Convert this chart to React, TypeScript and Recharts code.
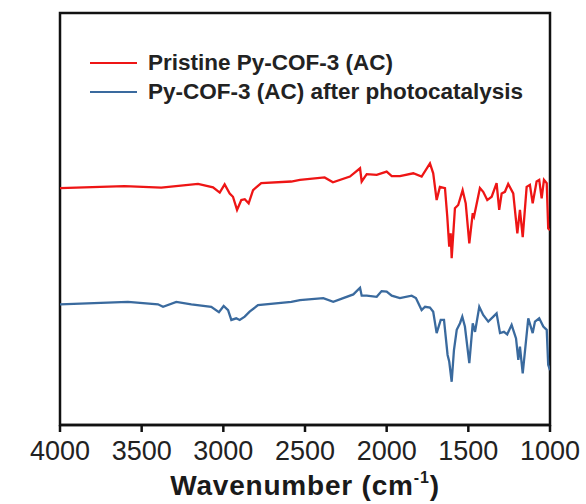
import React from "react";
import {
  LineChart,
  Line,
  XAxis,
  YAxis,
  Legend,
  ReferenceArea,
  Label
} from "recharts";

// wavenumbers (cm-1) and transmittance (a.u.)
const pristineWn = [
  4000, 3605, 3380, 3155, 3063, 3022, 2992, 2961, 2941, 2916, 2890, 2869, 2845,
  2818, 2768, 2584, 2531, 2380, 2329, 2225, 2163, 2153, 2122, 2061, 2000, 1969,
  1919, 1837, 1786, 1735, 1715, 1694, 1674, 1643, 1629, 1617, 1608, 1602, 1582,
  1562, 1535, 1516, 1494, 1473, 1465, 1429, 1409, 1384, 1357, 1327, 1311, 1296,
  1276, 1256, 1225, 1200, 1184, 1167, 1143, 1123, 1106, 1082, 1066, 1051, 1037,
  1020, 1011, 1000
];
const pristineT = [
  57.5, 58.0, 57.6, 58.5, 57.7, 56.4, 58.4, 56.2, 55.4, 52.2, 54.6, 54.8, 53.8,
  57.0, 58.7, 59.1, 59.5, 60.1, 58.9, 60.3, 62.3, 59.1, 60.9, 60.7, 61.5, 60.4,
  60.4, 61.1, 60.3, 63.5, 61.1, 54.6, 57.8, 57.5, 50.6, 43.3, 46.5, 40.5, 52.6,
  53.4, 57.0, 53.8, 44.1, 51.4, 50.6, 57.5, 56.6, 54.6, 55.4, 58.7, 52.2, 56.2,
  56.6, 58.5, 56.2, 46.5, 52.2, 45.6, 57.8, 58.3, 53.8, 59.1, 59.5, 55.0, 59.5,
  58.7, 47.7, 47.3
];

const afterWn = [
  4000, 3584, 3400, 3369, 3288, 3196, 3074, 3027, 2998, 2971, 2951, 2921, 2900,
  2869, 2839, 2788, 2584, 2531, 2388, 2327, 2266, 2204, 2163, 2153, 2122, 2061,
  2031, 2000, 1969, 1919, 1847, 1821, 1786, 1765, 1735, 1715, 1694, 1669, 1649,
  1627, 1617, 1602, 1588, 1571, 1551, 1537, 1521, 1494, 1473, 1459, 1433, 1409,
  1378, 1347, 1327, 1306, 1282, 1262, 1235, 1208, 1194, 1184, 1167, 1133, 1106,
  1092, 1066, 1041, 1020, 1011, 1000
];
const afterT = [
  29.3, 29.9, 29.3, 28.7, 29.9, 29.3, 28.7, 27.4, 28.9, 27.9, 25.5, 25.9, 25.5,
  26.3, 27.5, 29.1, 29.9, 30.3, 30.8, 29.9, 30.8, 31.7, 33.3, 31.4, 31.4, 31.1,
  32.5, 32.4, 31.4, 30.8, 31.4, 30.8, 27.9, 28.7, 28.5, 27.5, 22.3, 25.5, 25.5,
  17.0, 15.4, 10.5, 18.2, 23.1, 24.7, 26.3, 23.9, 15.0, 24.7, 22.6, 28.7, 26.7,
  25.1, 26.3, 27.1, 22.3, 22.6, 22.0, 24.3, 21.0, 15.8, 19.0, 12.5, 25.9, 22.3,
  25.1, 25.9, 23.9, 23.1, 14.6, 13.3
];

const xTicks = [4000, 3500, 3000, 2500, 2000, 1500, 1000];

const pristine = pristineWn.map((wn, i) => ({ wn, t: pristineT[i] }));
const after = afterWn.map((wn, i) => ({ wn, t: afterT[i] }));

const FONT = "'Liberation Sans', Arial, sans-serif";

const renderLegend = ({ payload }: any) => (
  <div style={{ fontFamily: FONT }}>
    {(payload || []).map((p: any, i: number) => (
      <div
        key={`leg-${i}`}
        style={{ display: "flex", alignItems: "center", height: 29 }}
      >
        <svg width={47} height={4}>
          <line x1={0} y1={2} x2={47} y2={2} stroke={p.color} strokeWidth={2.2} />
        </svg>
        <span
          style={{
            marginLeft: 11,
            fontSize: 22.5,
            fontWeight: "bold",
            color: "#222",
            whiteSpace: "nowrap"
          }}
        >
          {p.value}
        </span>
      </div>
    ))}
  </div>
);

const XTitle = ({ viewBox }: any) => {
  const cx = viewBox.x + viewBox.width / 2;
  return (
    <text
      x={cx}
      y={495}
      textAnchor="middle"
      fontFamily={FONT}
      fontWeight="bold"
      fontSize={28}
      letterSpacing={0.8}
      fill="#1a1a1a"
    >
      Wavenumber (cm
      <tspan dy={-12} fontSize={16}>-1</tspan>
      <tspan dy={12}>)</tspan>
    </text>
  );
};

const YTitle = ({ viewBox }: any) => {
  const x = viewBox.x - 25;
  const y = viewBox.y + viewBox.height / 2 + 6;
  return (
    <text
      x={x}
      y={y}
      textAnchor="middle"
      transform={`rotate(-90, ${x}, ${y})`}
      fontFamily={FONT}
      fontWeight="bold"
      fontSize={28}
      fill="#1a1a1a"
    >
      Transmittance (a.u.)
    </text>
  );
};

export default function App() {
  return (
    <div style={{ position: "absolute", left: 0, top: 0, background: "#fff" }}>
      <LineChart
        width={586}
        height={504}
        margin={{ top: 13, right: 36, left: 60, bottom: 39 }}
      >
        <XAxis
          type="number"
          dataKey="wn"
          domain={[1000, 4000]}
          reversed
          ticks={xTicks}
          height={40}
          tickSize={7}
          tickMargin={9}
          axisLine={{ stroke: "#111", strokeWidth: 2.5 }}
          tickLine={{ stroke: "#111", strokeWidth: 2.5 }}
          tick={{ fontSize: 27, fill: "#222", fontFamily: FONT }}
          allowDataOverflow
        >
          <Label content={<XTitle />} />
        </XAxis>
        <YAxis
          type="number"
          domain={[0, 100]}
          width={0}
          tick={false}
          tickLine={false}
          axisLine={false}
        >
          <Label content={<YTitle />} />
        </YAxis>
        <ReferenceArea
          x1={4000}
          x2={1000}
          y1={0}
          y2={100}
          fill="none"
          stroke="#111"
          strokeWidth={2.5}
        />
        <Legend
          layout="horizontal"
          verticalAlign="middle"
          align="center"
          wrapperStyle={{ top: 48, left: 90, width: 480 }}
          content={renderLegend}
        />
        <Line
          data={pristine}
          dataKey="t"
          name="Pristine Py-COF-3 (AC)"
          type="linear"
          stroke="#ee1515"
          strokeWidth={2.3}
          dot={false}
          isAnimationActive={false}
        />
        <Line
          data={after}
          dataKey="t"
          name="Py-COF-3 (AC) after photocatalysis"
          type="linear"
          stroke="#3a6a9e"
          strokeWidth={2.3}
          dot={false}
          isAnimationActive={false}
        />
      </LineChart>
    </div>
  );
}
